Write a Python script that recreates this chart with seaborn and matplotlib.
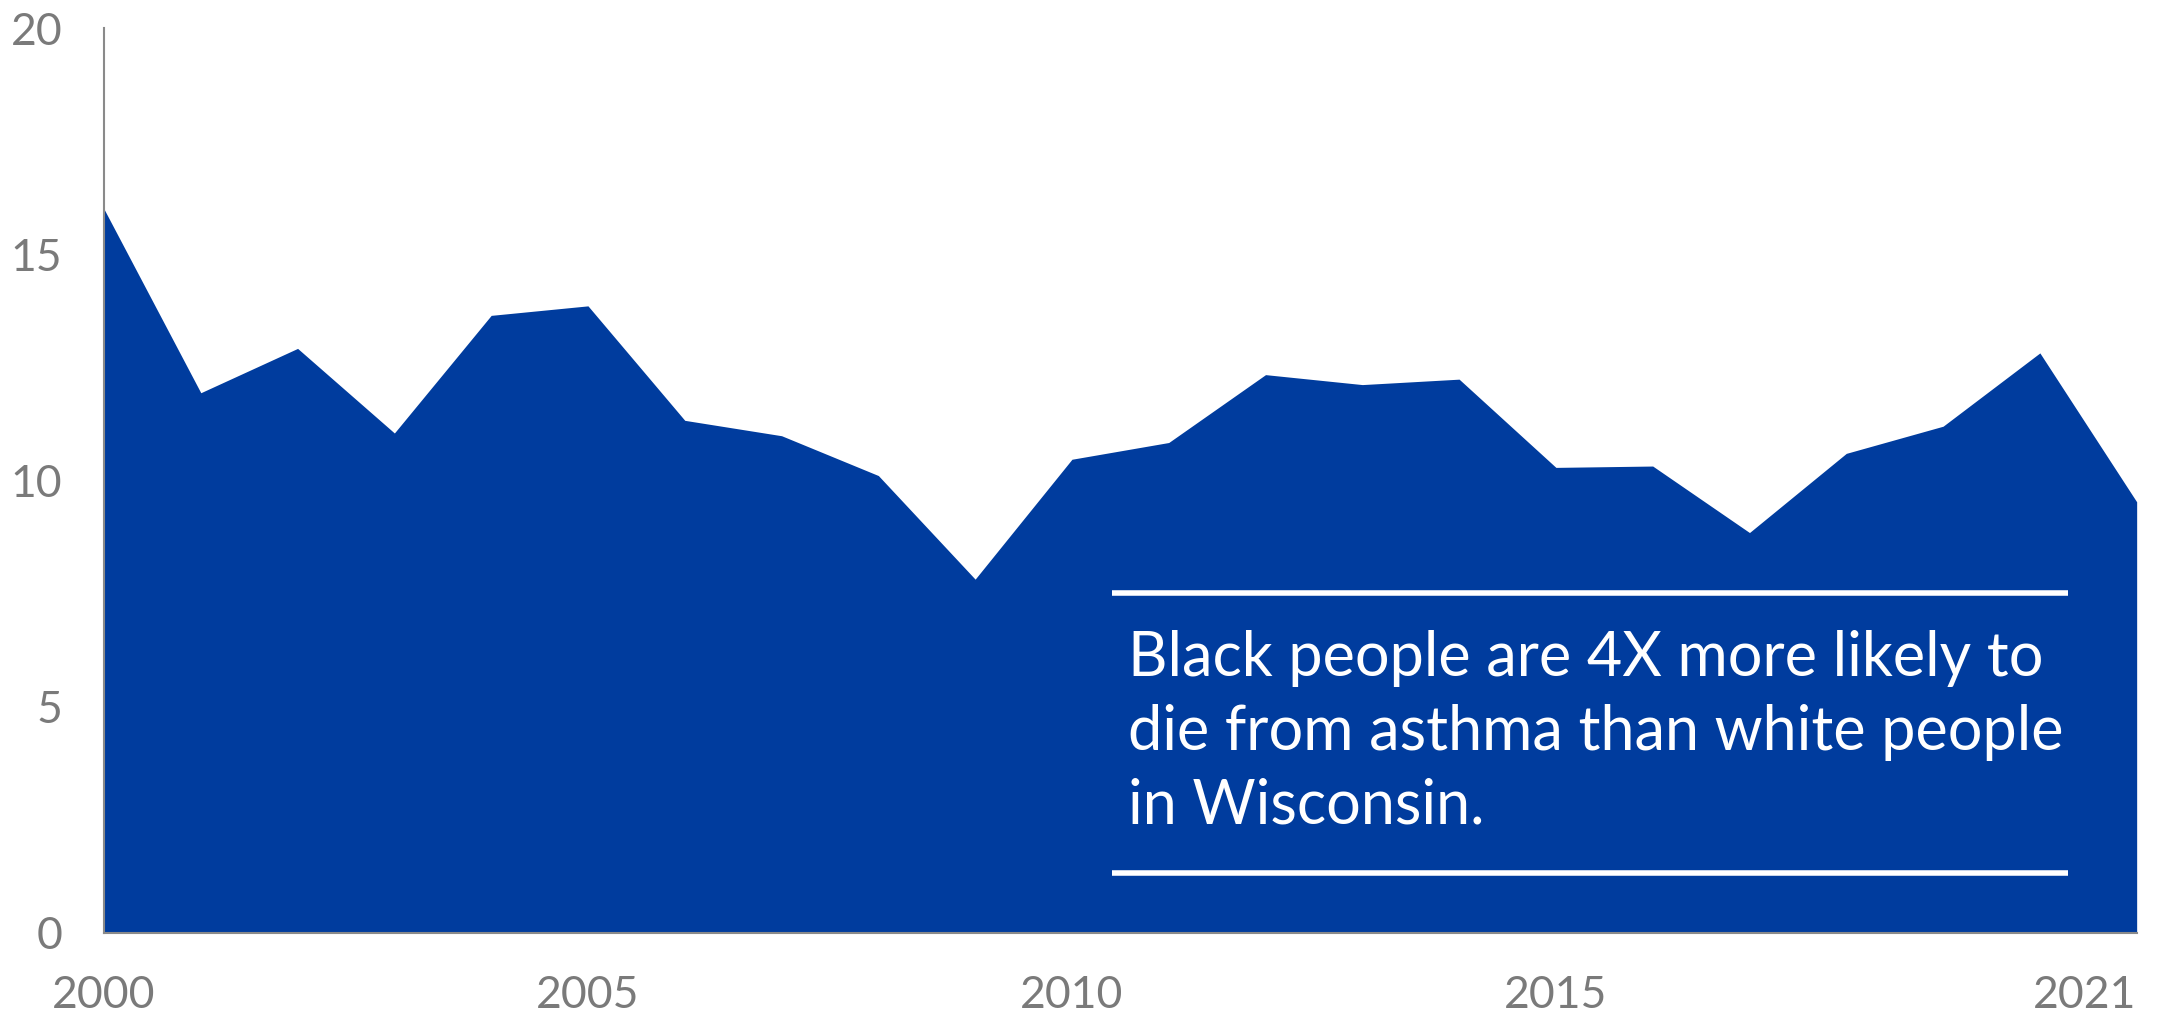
import numpy as np
import pandas as pd
import matplotlib
matplotlib.use('Agg')
import matplotlib.pyplot as plt
import seaborn as sns

anos = list(range(2000, 2022))
taxa = [16.0, 11.94, 12.92, 11.05, 13.65, 13.86, 11.33, 10.99, 10.11, 7.82, 10.47,
        10.84, 12.34, 12.12, 12.24, 10.29, 10.32, 8.85, 10.6, 11.2, 12.82, 9.53]
ticks_x = [2000, 2005, 2010, 2015, 2021]
ticks_y = [0, 5, 10, 15, 20]
texto = 'Black people are 4X more likely to\ndie from asthma than white people\nin Wisconsin.'

df = pd.DataFrame({'Ano': anos, 'Taxa': taxa})

sns.set_style('white')
plt.rcParams['font.family'] = ['Lato', 'DejaVu Sans']

azul = '#003C9E'
cinza = '#7a7a7a'

fig = plt.figure(figsize=(21.67, 10.16), dpi=100)
ax = fig.add_axes([0.048, 0.0817, 0.938, 0.8907])

sns.lineplot(data=df, x='Ano', y='Taxa', color=azul, linewidth=0, ax=ax)
ax.fill_between(df['Ano'], df['Taxa'], 0, color=azul, linewidth=0)

ax.set_xlim(2000, 2021)
ax.set_ylim(0, 20)
ax.set_xticks(ticks_x)
ax.set_yticks(ticks_y)
ax.set_xlabel('')
ax.set_ylabel('')
ax.tick_params(axis='both', length=0, labelsize=32, colors=cinza)
ax.tick_params(axis='y', pad=30)
ax.tick_params(axis='x', pad=30)
ax.xaxis.get_ticklabels()[-1].set_horizontalalignment('right')

for lado in ['top', 'right']:
    ax.spines[lado].set_visible(False)
for lado in ['left', 'bottom']:
    ax.spines[lado].set_color('#8a8a8a')
    ax.spines[lado].set_linewidth(1.5)

# caixa de texto com linhas brancas
ax.plot([0.496, 0.966], [0.376, 0.376], transform=ax.transAxes, color='white', lw=4,
        solid_capstyle='butt')
ax.plot([0.496, 0.966], [0.066, 0.066], transform=ax.transAxes, color='white', lw=4,
        solid_capstyle='butt')
ax.text(0.504, 0.222, texto, transform=ax.transAxes, color='white', fontsize=44,
        va='center', ha='left', linespacing=1.37)

fig.savefig('out.png', dpi=100)
